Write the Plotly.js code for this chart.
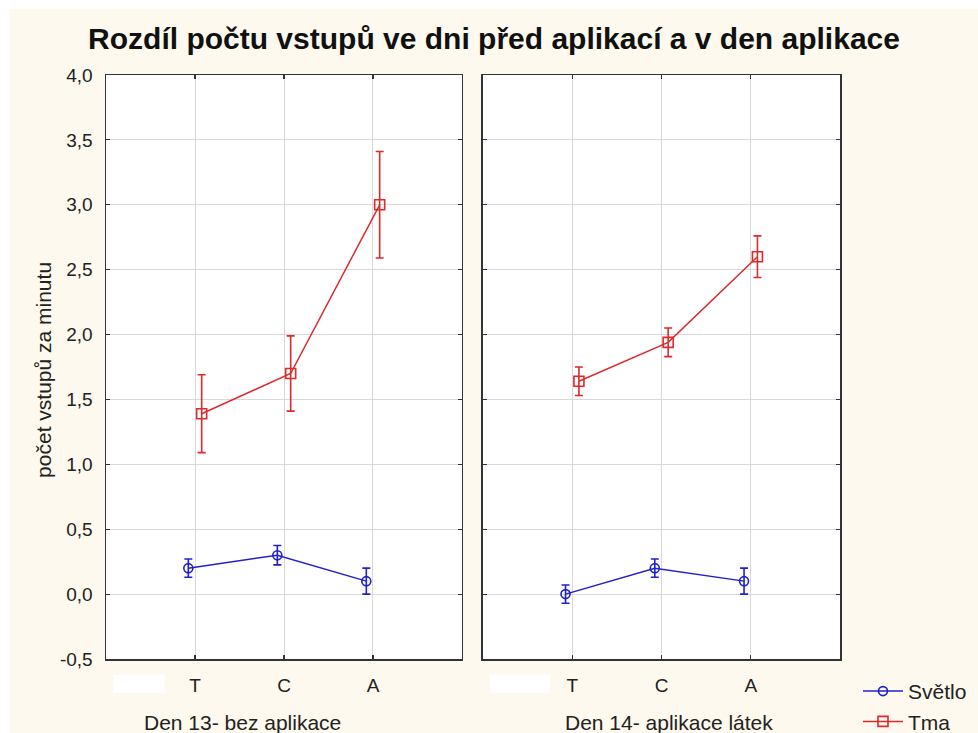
<!DOCTYPE html>
<html>
<head>
<meta charset="utf-8">
<script src="https://cdn.plot.ly/plotly-3.0.1.min.js"></script>
<style>
  html, body { margin: 0; padding: 0; background: #ffffff; }
  #chart { position: absolute; left: 10px; top: 9px; width: 968px; height: 724px; }
</style>
</head>
<body>
<div id="chart"></div>
<script>
// ---- data ----
const categories = ['T', 'C', 'A'];
const seriesNames = ['Světlo', 'Tma'];
const panelTitles = ['Den 13- bez aplikace', 'Den 14- aplikace látek'];

const svetloDen13 = [0.20, 0.30, 0.10];
const svetloDen13Err = [0.07, 0.075, 0.10];
const tmaDen13 = [1.39, 1.70, 3.00];
const tmaDen13Err = [0.30, 0.29, 0.41];

const svetloDen14 = [0.00, 0.20, 0.10];
const svetloDen14Err = [0.07, 0.07, 0.10];
const tmaDen14 = [1.64, 1.94, 2.60];
const tmaDen14Err = [0.11, 0.11, 0.16];

const yTickVals = [-0.5, 0, 0.5, 1, 1.5, 2, 2.5, 3, 3.5, 4];
const yTickText = ['-0,5', '0,0', '0,5', '1,0', '1,5', '2,0', '2,5', '3,0', '3,5', '4,0'];

const yTitle = 'počet vstupů za minutu';
const chartTitle = 'Rozdíl počtu vstupů ve dni před aplikací a v den aplikace';

// ---- styles ----
const BLUE = '#2020cc';
const RED = '#dd2a2a';
const FONT = 'Liberation Sans, Arial, sans-serif';

function mk(name, y, err, color, symbol, xa, ya, showlegend, size) {
  return {
    type: 'scatter', mode: 'lines+markers', name: name,
    x: categories, y: y, xaxis: xa, yaxis: ya,
    showlegend: showlegend, legendgroup: name,
    line: { color: color, width: 1.5 },
    marker: { symbol: symbol, size: size, color: color, line: { width: 1.6 } },
    error_y: { type: 'data', array: err, visible: true, color: color, thickness: 1.6, width: 4 }
  };
}

const traces = [
  mk(seriesNames[0], svetloDen13, svetloDen13Err, BLUE, 'circle-open', 'x', 'y', true, 9),
  mk(seriesNames[1], tmaDen13, tmaDen13Err, RED, 'square-open', 'x', 'y', true, 10),
  mk(seriesNames[0], svetloDen14, svetloDen14Err, BLUE, 'circle-open', 'x2', 'y2', false, 9),
  mk(seriesNames[1], tmaDen14, tmaDen14Err, RED, 'square-open', 'x2', 'y2', false, 10)
];

const axisCommon = {
  showline: true, linecolor: '#333333', linewidth: 1.5, mirror: 'allticks',
  ticks: 'inside', ticklen: 4, tickcolor: '#333333', tickwidth: 1.2,
  showgrid: true, gridcolor: '#d8d8d8', gridwidth: 1, zeroline: false,
  tickfont: { family: FONT, size: 19, color: '#222222' }
};

const xCommon = Object.assign({}, axisCommon, {
  type: 'category', range: [-1, 3], fixedrange: true, ticklabelstandoff: 9
});
const yCommon = Object.assign({}, axisCommon, {
  range: [-0.5, 4], tickvals: yTickVals, ticktext: yTickText, fixedrange: true
});

const layout = {
  width: 968, height: 724,
  margin: { l: 96, r: 138, t: 66, b: 74, autoexpand: false },
  paper_bgcolor: '#fdf9ee', plot_bgcolor: '#ffffff',
  font: { family: FONT, color: '#222222' },
  scattermode: 'group', scattergap: 0.7,
  title: {
    text: '<b>' + chartTitle + '</b>',
    font: { family: FONT, size: 30, color: '#111111' },
    x: 0.5, xref: 'container', y: 1 - 29 / 724, yref: 'container', yanchor: 'middle'
  },
  xaxis: Object.assign({}, xCommon, { domain: [0, 0.485], anchor: 'y' }),
  xaxis2: Object.assign({}, xCommon, { domain: [0.5136, 1], anchor: 'y2' }),
  yaxis: Object.assign({}, yCommon, { anchor: 'x', ticklabelstandoff: 8 }),
  yaxis2: Object.assign({}, yCommon, { anchor: 'x2', matches: 'y', showticklabels: false }),
  showlegend: true,
  legend: {
    x: 1.0245, xanchor: 'left', y: -0.0205, yanchor: 'top',
    bgcolor: 'rgba(0,0,0,0)', borderwidth: 0,
    font: { family: FONT, size: 21, color: '#222222' },
    itemwidth: 40, tracegroupgap: 0
  },
  annotations: [
    { text: panelTitles[0], xref: 'paper', yref: 'paper', x: 0.1866, y: -0.108,
      xanchor: 'center', yanchor: 'middle', showarrow: false,
      font: { family: FONT, size: 21, color: '#222222' } },
    { text: panelTitles[1], xref: 'paper', yref: 'paper', x: 0.767, y: -0.108,
      xanchor: 'center', yanchor: 'middle', showarrow: false,
      font: { family: FONT, size: 21, color: '#222222' } },
    { text: yTitle, xref: 'paper', yref: 'paper', x: -0.0845, y: 0.495,
      xanchor: 'center', yanchor: 'middle', textangle: -90, showarrow: false,
      font: { family: FONT, size: 21, color: '#222222' } }
  ],
  shapes: [
    { type: 'rect', xref: 'paper', yref: 'paper', x0: 0.010, x1: 0.080, y0: -0.058, y1: -0.027,
      fillcolor: '#ffffff', line: { width: 0 }, layer: 'above' },
    { type: 'rect', xref: 'paper', yref: 'paper', x0: 0.523, x1: 0.605, y0: -0.058, y1: -0.027,
      fillcolor: '#ffffff', line: { width: 0 }, layer: 'above' }
  ]
};

Plotly.newPlot('chart', traces, layout, { displayModeBar: false, staticPlot: true });
</script>
</body>
</html>
